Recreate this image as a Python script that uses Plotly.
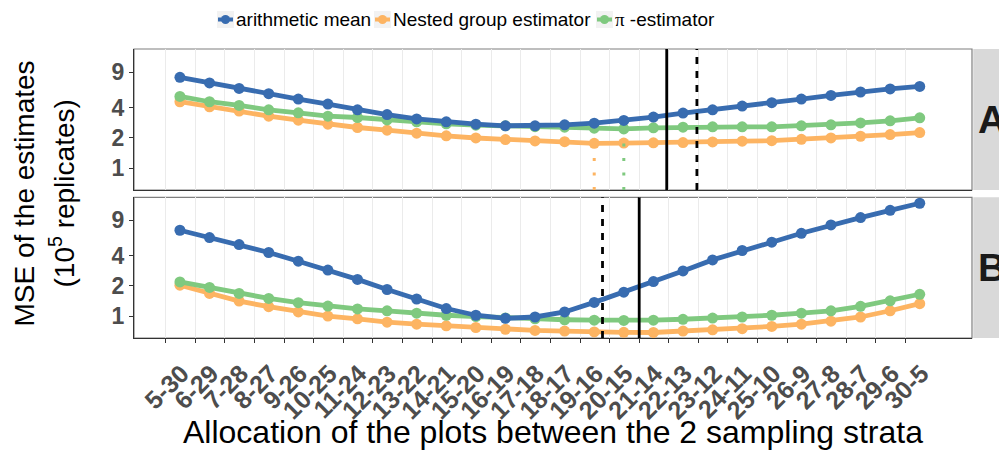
import plotly.graph_objects as go

# ---------------- data ----------------
categories = ["5-30", "6-29", "7-28", "8-27", "9-26", "10-25", "11-24", "12-23", "13-22",
              "14-21", "15-20", "16-19", "17-18", "18-17", "19-16", "20-15", "21-14", "22-13",
              "23-12", "24-11", "25-10", "26-9", "27-8", "28-7", "29-6", "30-5"]

# Panel A
a_mean = [7.97, 7.01, 6.19, 5.48, 4.85, 4.32, 3.79, 3.40, 3.08, 2.88, 2.73, 2.63, 2.63,
          2.69, 2.79, 2.97, 3.21, 3.52, 3.79, 4.13, 4.46, 4.85, 5.27, 5.70, 6.11, 6.48]
a_nested = [4.56, 4.06, 3.68, 3.28, 2.99, 2.73, 2.53, 2.38, 2.22, 2.09, 1.99, 1.92, 1.86,
            1.83, 1.76, 1.77, 1.78, 1.79, 1.82, 1.85, 1.87, 1.93, 1.99, 2.07, 2.15, 2.25]
a_pi = [5.15, 4.56, 4.19, 3.79, 3.54, 3.28, 3.18, 3.01, 2.88, 2.75, 2.67, 2.63, 2.58,
        2.55, 2.49, 2.45, 2.51, 2.55, 2.57, 2.57, 2.57, 2.63, 2.69, 2.81, 2.95, 3.16]

# Panel B
b_mean = [7.16, 6.06, 5.16, 4.30, 3.52, 2.87, 2.32, 1.84, 1.48, 1.19, 1.02, 0.95, 0.98,
          1.10, 1.37, 1.73, 2.21, 2.82, 3.63, 4.50, 5.44, 6.68, 8.08, 9.57, 11.3, 13.3]
b_nested = [2.03, 1.68, 1.41, 1.24, 1.10, 1.00, 0.94, 0.87, 0.83, 0.80, 0.77, 0.74, 0.72,
            0.71, 0.695, 0.69, 0.687, 0.71, 0.73, 0.75, 0.79, 0.83, 0.89, 0.98, 1.13, 1.33]
b_pi = [2.19, 1.93, 1.68, 1.50, 1.36, 1.26, 1.18, 1.13, 1.07, 1.02, 0.99, 0.96, 0.94,
        0.92, 0.91, 0.905, 0.91, 0.93, 0.955, 0.98, 1.02, 1.07, 1.13, 1.25, 1.42, 1.65]

# reference allocations (in axis units) : solid and dashed vertical lines
a_solid, a_dashed = 16.93, 17.95
b_solid, b_dashed = 16.00, 14.76
# minima marked with dotted drop lines: (panel, series key)
dotted_marks = [("A", "nested"), ("A", "pi"), ("B", "nested")]

y_ticks = [1, 2, 4, 9]
series_keys = ["mean", "nested", "pi"]
series_names = {"mean": "arithmetic mean", "nested": "Nested group estimator",
                "pi": "<span style=\"font-family:'Liberation Serif'\">π</span> -estimator"}

# ---------------- style ----------------
colors = {"mean": "#386CB0", "nested": "#FDB462", "pi": "#7FC97F"}
point_offset = 0.48
x_range = [-1.072, 27.246]
y_range = [-0.218, 1.183]
FONT = "Liberation Sans, Arial, sans-serif"
OFF = 8  # default page margin of the html body
W, H = 1007 - OFF, 450 - OFF
ML, MR, MT, MB = 134 - OFF, 35, 49 - OFF, 112
PW, PH = W - ML - MR, H - MT - MB


def px_x(px):  # window pixel -> paper x
    return (px - OFF - ML) / PW


def px_y(py):  # window pixel -> paper y
    return (H + OFF - MB - py) / PH


xpos = [i + point_offset for i in range(len(categories))]
ticks_pos = list(range(len(categories)))

panels = {"A": {"mean": a_mean, "nested": a_nested, "pi": a_pi, "xa": "x", "ya": "y"},
          "B": {"mean": b_mean, "nested": b_nested, "pi": b_pi, "xa": "x2", "ya": "y2"}}

fig = go.Figure()
for pname, p in panels.items():
    for key in ["nested", "pi", "mean"]:
        fig.add_trace(go.Scatter(
            x=xpos, y=p[key], mode="lines+markers", name=series_names[key],
            line=dict(color=colors[key], width=4.8),
            marker=dict(color=colors[key], size=11),
            xaxis=p["xa"], yaxis=p["ya"], showlegend=False,
        ))

# dotted drop lines at the minima
ybottom = 10 ** y_range[0]
for pname, key in dotted_marks:
    p = panels[pname]
    vals = p[key]
    imin = vals.index(min(vals))
    fig.add_trace(go.Scatter(
        x=[xpos[imin], xpos[imin]], y=[ybottom, vals[imin]], mode="lines",
        line=dict(color=colors[key], width=3, dash="3px,11.5px"),
        xaxis=p["xa"], yaxis=p["ya"], showlegend=False, hoverinfo="skip",
    ))

# vertical reference lines
for xa, ya, xs, dash in [("x", "y", a_solid, "solid"), ("x", "y", a_dashed, "7px,7px"),
                         ("x2", "y2", b_solid, "solid"), ("x2", "y2", b_dashed, "7px,7px")]:
    fig.add_shape(type="line", xref=xa, yref=ya + " domain", x0=xs, x1=xs, y0=0, y1=1,
                  line=dict(color="black", width=2.8, dash=dash), layer="above")

# panel borders and strips
for ya, lab in [("y", "A"), ("y2", "B")]:
    fig.add_shape(type="rect", xref="paper", yref=ya + " domain", x0=0, x1=1, y0=0, y1=1,
                  line=dict(color="#7F7F7F", width=1.2), layer="below")
    fig.add_shape(type="rect", xref="paper", yref=ya + " domain", x0=1.0015, x1=1.06, y0=0, y1=1,
                  fillcolor="#D9D9D9", line=dict(width=0), layer="below")
    fig.add_annotation(text="<b>%s</b>" % lab, xref="paper", yref=ya + " domain",
                       x=px_x(992), y=0.5, showarrow=False, xanchor="center", yanchor="middle",
                       font=dict(family=FONT, size=39, color="#1A1A1A"))

# legend (keys drawn as shapes, labels as text)
legend_key_left = {"mean": 217, "nested": 374, "pi": 596}
legend_y = 19.5
for key in series_keys:
    x0 = legend_key_left[key]
    fig.add_shape(type="rect", xref="paper", yref="paper", x0=px_x(x0), x1=px_x(x0 + 17),
                  y0=px_y(legend_y + 8.5), y1=px_y(legend_y - 8.5),
                  fillcolor="#F2F2F2", line=dict(width=0))
    fig.add_shape(type="line", xref="paper", yref="paper", x0=px_x(x0 + 1), x1=px_x(x0 + 16),
                  y0=px_y(legend_y), y1=px_y(legend_y), line=dict(color=colors[key], width=4))
    fig.add_shape(type="circle", xref="paper", yref="paper", xsizemode="pixel", ysizemode="pixel",
                  xanchor=px_x(x0 + 8.5), yanchor=px_y(legend_y), x0=-4.5, x1=4.5, y0=-4.5, y1=4.5,
                  fillcolor=colors[key], line=dict(width=0))
    fig.add_annotation(text=series_names[key], xref="paper", yref="paper",
                       x=px_x(x0 + 17), y=px_y(legend_y), xanchor="left", yanchor="middle",
                       showarrow=False, font=dict(family=FONT, size=19, color="black"))

axis_common = dict(range=x_range, tickvals=ticks_pos, ticktext=categories,
                   showgrid=True, gridcolor="#EBEBEB", gridwidth=1, zeroline=False,
                   showline=True, linecolor="#333333", linewidth=1.2)
yaxis_common = dict(type="log", range=y_range, tickvals=y_ticks, ticktext=[str(v) for v in y_ticks],
                    showgrid=False, zeroline=False, showline=True, linecolor="#333333", linewidth=1.2,
                    ticks="outside", ticklen=4, tickcolor="#333333",
                    tickfont=dict(family=FONT, size=23, color="#4D4D4D", weight="bold"))

fig.update_layout(
    width=W, height=H,
    margin=dict(l=ML, r=MR, t=MT, b=MB, autoexpand=False),
    plot_bgcolor="white", paper_bgcolor="white",
    showlegend=False,
    xaxis=dict(**axis_common, anchor="y", domain=[0, 1], matches="x2", showticklabels=False, ticks=""),
    xaxis2=dict(**axis_common, anchor="y2", domain=[0, 1], ticks="outside", ticklen=4,
                tickcolor="#333333", tickangle=-45, ticklabelshift=16, ticklabelstandoff=6,
                tickfont=dict(family=FONT, size=25, color="#4D4D4D", weight="bold")),
    yaxis=dict(**yaxis_common, domain=[px_y(190), 1]),
    yaxis2=dict(**yaxis_common, domain=[0, px_y(197.3)]),
    font=dict(family=FONT),
)

# axis titles
fig.add_annotation(text="MSE of the estimates", xref="paper", yref="paper", x=px_x(24), y=0.5,
                   textangle=-90, showarrow=False, xanchor="center", yanchor="middle",
                   font=dict(family=FONT, size=28, color="black"))
fig.add_annotation(text="(10<sup>5</sup> replicates)", xref="paper", yref="paper", x=px_x(62), y=0.5,
                   textangle=-90, showarrow=False, xanchor="center", yanchor="middle",
                   font=dict(family=FONT, size=28, color="black"))
fig.add_annotation(text="Allocation of the plots between the 2 sampling strata", xref="paper",
                   yref="paper", x=px_x(552.5), y=px_y(432), showarrow=False, xanchor="center",
                   yanchor="middle", font=dict(family=FONT, size=32, color="black"))

fig.write_html("out.html")
